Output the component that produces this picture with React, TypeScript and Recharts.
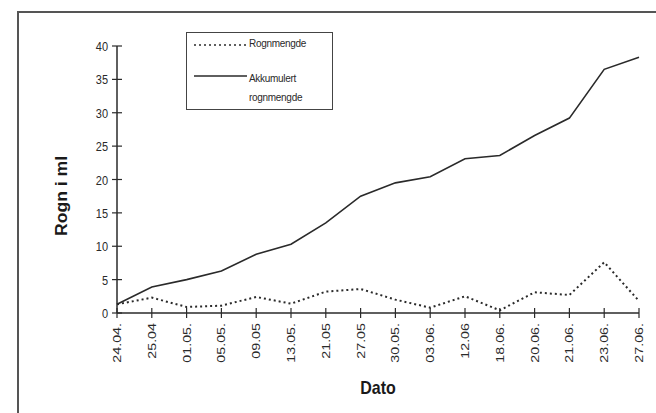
import React from 'react';
import { LineChart, Line, XAxis, YAxis } from 'recharts';

const dates = ['24.04.', '25.04', '01.05.', '05.05.', '09.05', '13.05.', '21.05', '27.05', '30.05.', '03.06.', '12.06', '18.06.', '20.06.', '21.06.', '23.06.', '27.06.'];
const rognmengde = [1.3, 2.3, 0.9, 1.1, 2.4, 1.4, 3.2, 3.6, 2.0, 0.8, 2.5, 0.4, 3.1, 2.7, 7.6, 1.8];
const akkumulert = [1.3, 3.9, 5.0, 6.3, 8.8, 10.3, 13.5, 17.5, 19.5, 20.4, 23.1, 23.6, 26.6, 29.2, 36.5, 38.3];
const yTicks = [0, 5, 10, 15, 20, 25, 30, 35, 40];
const seriesNames = ['Rognmengde', 'Akkumulert rognmengde'];

const data = dates.map((d, i) => ({ dato: d, rogn: rognmengde[i], akk: akkumulert[i] }));

const FONT = '"Liberation Sans", Arial, sans-serif';
const INK = '#2a2a2a';

const YTick = (props: any) => {
  const { x, y, payload } = props;
  return (
    <g>
      <line x1={x - 5} x2={x + 5} y1={y} y2={y} stroke={INK} strokeWidth={1.2} />
      <text
        x={0}
        y={0}
        textAnchor="end"
        fontSize={11}
        fontFamily={FONT}
        fill={INK}
        transform={`translate(${x - 9} ${y + 5}) scale(1 1.2)`}
      >
        {payload.value}
      </text>
    </g>
  );
};

const XTick = (props: any) => {
  const { x, y, payload } = props;
  return (
    <g>
      <line x1={x} x2={x} y1={y - 5} y2={y + 5} stroke={INK} strokeWidth={1.2} />
      <text
        x={0}
        y={0}
        textAnchor="end"
        fontSize={11}
        fontFamily={FONT}
        fill={INK}
        transform={`translate(${x + 4} ${y + 10}) rotate(-90) scale(1.3 1)`}
      >
        {payload.value}
      </text>
    </g>
  );
};

export default function App() {
  return (
    <div style={{ position: 'absolute', left: 0, top: 0, width: 656, height: 413, overflow: 'hidden', background: '#fff' }}>
      <div
        style={{
          position: 'absolute',
          left: 17,
          top: 11,
          width: 700,
          height: 500,
          border: '2px solid #555',
          boxSizing: 'border-box',
        }}
      />
      <div style={{ position: 'absolute', left: 0, top: 0 }}>
        <LineChart width={656} height={413} data={data} margin={{ top: 46, right: 17, bottom: 16, left: 57 }}>
          <XAxis
            dataKey="dato"
            stroke={INK}
            strokeWidth={1.5}
            tickSize={0}
            tickMargin={0}
            tick={<XTick />}
            interval={0}
            height={84}
            label={{
              content: () => (
                <text
                  x={0}
                  y={0}
                  textAnchor="middle"
                  fontSize={16}
                  fontWeight="bold"
                  fontFamily={FONT}
                  fill="#1a1a1a"
                  transform="translate(378 394) scale(1 1.15)"
                >
                  Dato
                </text>
              ),
            }}
          />
          <YAxis
            domain={[0, 40]}
            ticks={yTicks}
            stroke={INK}
            strokeWidth={1.5}
            tickSize={0}
            tickMargin={0}
            tick={<YTick />}
            width={60}
            interval={0}
            label={{
              content: () => (
                <text
                  x={0}
                  y={0}
                  textAnchor="middle"
                  fontSize={16}
                  fontWeight="bold"
                  fontFamily={FONT}
                  fill="#1a1a1a"
                  transform="translate(67 196) rotate(-90) scale(1.1 1)"
                >
                  Rogn i ml
                </text>
              ),
            }}
          />
          <Line
            dataKey="rogn"
            name={seriesNames[0]}
            stroke={INK}
            strokeWidth={2}
            strokeDasharray="2 3"
            dot={false}
            isAnimationActive={false}
          />
          <Line
            dataKey="akk"
            name={seriesNames[1]}
            stroke={INK}
            strokeWidth={1.6}
            dot={false}
            isAnimationActive={false}
          />
        </LineChart>
      </div>
      <div
        style={{
          position: 'absolute',
          left: 186,
          top: 32,
          width: 147,
          height: 78,
          border: '1.5px solid #444',
          boxSizing: 'border-box',
          fontFamily: FONT,
          fontSize: 10,
          color: INK,
          background: '#fff',
        }}
      >
        <svg style={{ position: 'absolute', left: 0, top: 0 }} width={147} height={78}>
          <line x1={7} x2={60} y1={12} y2={12} stroke={INK} strokeWidth={1.5} strokeDasharray="2 3" />
          <line x1={7} x2={60} y1={43} y2={43} stroke={INK} strokeWidth={1.5} />
        </svg>
        <div style={{ position: 'absolute', left: 62, top: 5, letterSpacing: -0.3 }}>{seriesNames[0]}</div>
        <div style={{ position: 'absolute', left: 62, top: 36, width: 80, lineHeight: '19px', letterSpacing: -0.3 }}>
          {seriesNames[1]}
        </div>
      </div>
    </div>
  );
}
